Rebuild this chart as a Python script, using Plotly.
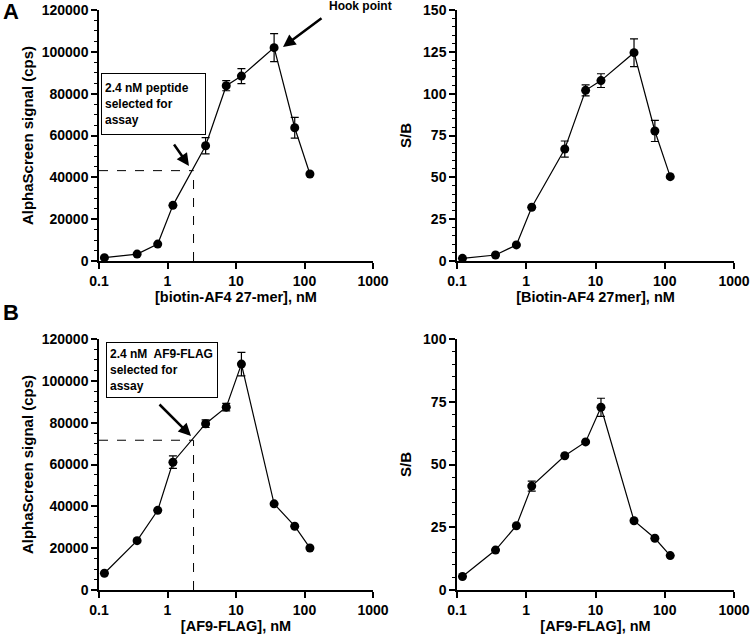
import plotly.graph_objects as go

# ---- data ----
conc = [0.12, 0.36, 0.72, 1.2, 3.6, 7.2, 12, 36, 72, 120]

a_signal = [1600, 3300, 8100, 26600, 55100, 83800, 88400, 102000, 63700, 41600]
a_signal_err = [0, 0, 0, 0, 3900, 2400, 3600, 6700, 5000, 0]
a_sb = [1.6, 3.6, 9.6, 32.1, 66.9, 102, 107.8, 124.5, 77.7, 50.4]
a_sb_err = [0, 0, 0, 0, 4.8, 3.3, 4.1, 8.3, 6.3, 0]

b_signal = [8000, 23600, 38100, 61100, 79500, 87400, 108000, 41200, 30500, 20100]
b_signal_err = [0, 0, 0, 3000, 1800, 1800, 5600, 0, 0, 0]
b_sb = [5.4, 15.9, 25.6, 41.4, 53.5, 59.0, 72.8, 27.6, 20.6, 13.7]
b_sb_err = [0, 0, 0, 2.0, 0, 0, 3.6, 0, 0, 0]

selected_conc = 2.4
a_selected_level = 43200
b_selected_level = 71600

x_major = [0.1, 1, 10, 100, 1000]
x_major_text = ["0.1", "1", "10", "100", "1000"]
x_minor = [m * d for d in (0.1, 1, 10, 100) for m in range(2, 10)]

W, H = 750, 634
FONT = "Liberation Sans, Arial, sans-serif"


def px_x(p):
    return p / W


def px_y(p):
    return 1 - p / H


fig = go.Figure()

panels = [
    (conc, a_signal, a_signal_err, "x", "y"),
    (conc, a_sb, a_sb_err, "x2", "y2"),
    (conc, b_signal, b_signal_err, "x3", "y3"),
    (conc, b_sb, b_sb_err, "x4", "y4"),
]
for xs, ys, es, xa, ya in panels:
    fig.add_trace(go.Scatter(
        x=xs, y=ys, xaxis=xa, yaxis=ya, mode="lines+markers",
        line=dict(color="black", width=1.2),
        marker=dict(color="black", size=9),
        error_y=dict(type="data", array=es, visible=True, color="black",
                     thickness=1.2, width=4),
        cliponaxis=False, showlegend=False,
    ))

left_dom = [px_x(99), px_x(373)]
right_dom = [px_x(457), px_x(734)]
top_dom = [px_y(261), px_y(10)]
bot_dom = [px_y(590), px_y(339)]

tickfont = dict(family=FONT, size=14, color="black", weight="bold")
titlefont = dict(family=FONT, size=14.5, color="black", weight="bold")


def xaxis(domain, anchor, title):
    return dict(
        type="log", range=[-1, 3], domain=domain, anchor=anchor,
        tickmode="array", tickvals=x_major, ticktext=x_major_text,
        showline=True, linecolor="black", linewidth=1.5,
        ticks="outside", ticklen=6, tickwidth=1.5, tickcolor="black",
        showgrid=False, zeroline=False, tickfont=tickfont, automargin=False,
        title=dict(text=title, font=titlefont, standoff=2),
    )


def xminor(domain, anchor, overlay):
    return dict(
        type="log", range=[-1, 3], domain=domain, anchor=anchor, overlaying=overlay,
        tickmode="array", tickvals=x_minor, ticktext=[""] * len(x_minor),
        showline=False, ticks="outside", ticklen=3, tickwidth=1, tickcolor="black",
        showgrid=False, zeroline=False, automargin=False, showticklabels=False,
    )


def yaxis(domain, anchor, rng, dtick, minor_dtick, title, standoff):
    return dict(
        range=rng, domain=domain, anchor=anchor, dtick=dtick, tick0=0,
        tickformat="d",
        showline=True, linecolor="black", linewidth=1.5,
        ticks="outside", ticklen=6, tickwidth=1.5, tickcolor="black",
        minor=dict(ticks="outside", ticklen=3, tickwidth=1, tickcolor="black",
                   dtick=minor_dtick),
        showgrid=False, zeroline=False, tickfont=tickfont, automargin=False,
        title=dict(text=title, font=dict(family=FONT, size=15, color="black", weight="bold"),
                   standoff=standoff),
    )


fig.update_layout(
    width=W, height=H, margin=dict(l=0, r=0, t=0, b=0, autoexpand=False),
    paper_bgcolor="white", plot_bgcolor="white",
    font=dict(family=FONT, color="black"),
    xaxis=xaxis(left_dom, "y", "[biotin-AF4 27-mer], nM"),
    yaxis=yaxis(top_dom, "x", [0, 120000], 20000, 5000, "AlphaScreen signal (cps)", 4),
    xaxis2=xaxis(right_dom, "y2", "[Biotin-AF4 27mer], nM"),
    yaxis2=yaxis(top_dom, "x2", [0, 150], 25, 5, "S/B", 8),
    xaxis3=xaxis(left_dom, "y3", "[AF9-FLAG], nM"),
    yaxis3=yaxis(bot_dom, "x3", [0, 120000], 20000, 5000, "AlphaScreen signal (cps)", 4),
    xaxis4=xaxis(right_dom, "y4", "[AF9-FLAG], nM"),
    yaxis4=yaxis(bot_dom, "x4", [0, 100], 25, 5, "S/B", 8),
    xaxis5=xminor(left_dom, "y", "x"),
    xaxis6=xminor(right_dom, "y2", "x2"),
    xaxis7=xminor(left_dom, "y3", "x3"),
    xaxis8=xminor(right_dom, "y4", "x4"),
)

# dashed guide lines
for xr, yr, lvl in (("x", "y", a_selected_level), ("x3", "y3", b_selected_level)):
    fig.add_shape(type="line", xref=xr, yref=yr, x0=0.1, x1=selected_conc, y0=lvl, y1=lvl,
                  line=dict(color="black", width=1, dash="dash"))
    fig.add_shape(type="line", xref=xr, yref=yr, x0=selected_conc, x1=selected_conc, y0=0, y1=lvl,
                  line=dict(color="black", width=1, dash="dash"))

boxfont = dict(family=FONT, size=12, color="black", weight="bold")
# text boxes
fig.add_annotation(xref="paper", yref="paper", x=px_x(101), y=px_y(73),
                   xanchor="left", yanchor="top", showarrow=False, align="left",
                   text="2.4 nM peptide<br>selected for<br>assay", font=boxfont,
                   bordercolor="black", borderwidth=1, borderpad=3, bgcolor="white",
                   width=97, height=54, valign="middle")
fig.add_annotation(xref="paper", yref="paper", x=px_x(106), y=px_y(342),
                   xanchor="left", yanchor="top", showarrow=False, align="left",
                   text="2.4 nM  AF9-FLAG<br>selected for<br>assay", font=boxfont,
                   bordercolor="black", borderwidth=1, borderpad=3, bgcolor="white",
                   width=104, height=48, valign="middle")
fig.add_annotation(xref="paper", yref="paper", x=px_x(327), y=px_y(6),
                   xanchor="left", yanchor="middle", showarrow=False,
                   text="Hook point", font=dict(family=FONT, size=12, color="black", weight="bold"))

# arrows
arrow = dict(showarrow=True, arrowhead=2, arrowsize=1, arrowwidth=2.5, arrowcolor="black", text="")
fig.add_annotation(xref="paper", yref="paper", x=px_x(283), y=px_y(47), ax=40, ay=-30, **arrow)
fig.add_annotation(xref="paper", yref="paper", x=px_x(189), y=px_y(166), ax=-16, ay=-23, **arrow)
fig.add_annotation(xref="paper", yref="paper", x=px_x(191), y=px_y(436), ax=-33, ay=-33, **arrow)

# panel letters
for letter, ypx in (("A", 12), ("B", 312)):
    fig.add_annotation(xref="paper", yref="paper", x=px_x(1), y=px_y(ypx),
                       xanchor="left", yanchor="middle", showarrow=False, text=letter,
                       font=dict(family=FONT, size=22, color="black", weight="bold"))

fig.write_html("out.html", config={"displayModeBar": False},
               post_script="document.body.style.margin='0px';")
